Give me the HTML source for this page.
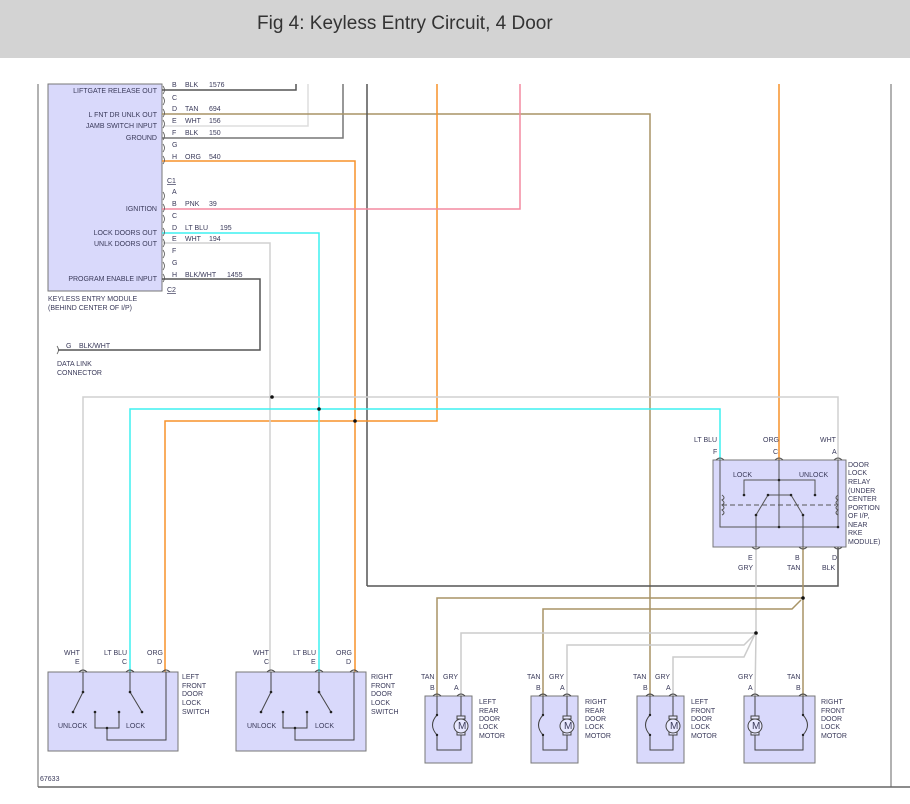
<!DOCTYPE html>
<html><head><meta charset="utf-8"><style>
html,body{margin:0;padding:0;background:#fff;width:910px;height:804px;overflow:hidden}
svg{display:block}
text{font-family:"Liberation Sans",sans-serif;font-size:7px;fill:#3a3a5a}
.t{font-size:19px;fill:#333}
</style></head><body>
<svg width="910" height="804" viewBox="0 0 910 804" xmlns="http://www.w3.org/2000/svg">
<rect x="0" y="0" width="910" height="58" fill="#d3d3d3"/>
<text class="t" x="257" y="29" style="font-size:19px;fill:#333">Fig 4: Keyless Entry Circuit, 4 Door</text>
<!-- frame -->
<line x1="38" y1="84" x2="38" y2="787" stroke="#666" stroke-width="1"/>
<line x1="891" y1="84" x2="891" y2="787" stroke="#666" stroke-width="1"/>
<line x1="38" y1="787" x2="910" y2="787" stroke="#666" stroke-width="1.5"/>
<!-- module box -->
<rect x="48" y="84" width="114" height="207" fill="#d9d9fb" stroke="#777" stroke-width="1"/>
<g fill="none" stroke-width="1.5">
<!-- wires from module -->
<polyline points="162,90 296,90 296,84" stroke="#555"/>
<polyline points="162,126 308,126 308,84" stroke="#ddd"/>
<polyline points="162,138 343,138 343,84" stroke="#777"/>
<polyline points="162,114 650,114 650,697" stroke="#a89466"/>
<line x1="367" y1="84" x2="367" y2="586" stroke="#555"/>
<polyline points="367,586 838,586 838,547" stroke="#555"/>
<polyline points="162,161 355,161 355,672" stroke="#f7922a"/>
<polyline points="437,84 437,421 165,421 165,672" stroke="#f7922a"/>
<polyline points="162,209 520,209 520,84" stroke="#f48aa0"/>
<polyline points="162,233 319,233 319,672" stroke="#3ff0f0"/>
<polyline points="162,243 270,243 270,672" stroke="#d0d0d0"/>
<polyline points="162,279 260,279 260,350 58,350" stroke="#555"/>
<line x1="779" y1="84" x2="779" y2="460" stroke="#f7922a"/>
<polyline points="83,672 83,397 838,397 838,460" stroke="#d0d0d0"/>
<polyline points="130,672 130,409 720,409 720,460" stroke="#3ff0f0"/>
<!-- relay outputs -->
<polyline points="756,547 756,633 755,697" stroke="#ccc"/>
<line x1="803" y1="547" x2="803" y2="697" stroke="#a89466"/>
<polyline points="437,697 437,598 803,598" stroke="#a89466"/>
<polyline points="543,697 543,609 792,609 801,600" stroke="#a89466"/>
<polyline points="461,697 461,633 756,633" stroke="#ccc"/>
<polyline points="567,697 567,645 744,645 755,634" stroke="#ccc"/>
<polyline points="673,697 673,657 744,657 755,634" stroke="#ccc"/>
</g>
<g fill="#111">
<circle cx="272" cy="397" r="1.8"/><circle cx="319" cy="409" r="1.8"/><circle cx="355" cy="421" r="1.8"/>
<circle cx="803" cy="598" r="1.8"/><circle cx="756" cy="633" r="1.8"/>
</g>
<!-- module pin markers -->
<g fill="none" stroke="#555" stroke-width="0.8">
<path d="M163,86 q3,4 0,8"/><path d="M163,97 q3,4 0,8"/><path d="M163,109 q3,4 0,8"/><path d="M163,120 q3,4 0,8"/><path d="M163,132 q3,4 0,8"/><path d="M163,144 q3,4 0,8"/><path d="M163,156 q3,4 0,8"/>
<path d="M163,192 q3,4 0,8"/><path d="M163,204 q3,4 0,8"/><path d="M163,215 q3,4 0,8"/><path d="M163,228 q3,4 0,8"/><path d="M163,239 q3,4 0,8"/><path d="M163,250 q3,4 0,8"/><path d="M163,262 q3,4 0,8"/><path d="M163,274 q3,4 0,8"/>
<path d="M57,346 q3,4 0,8"/>
</g>
<g>
<text x="157" y="93" text-anchor="end">LIFTGATE RELEASE OUT</text>
<text x="157" y="117" text-anchor="end">L FNT DR UNLK OUT</text>
<text x="157" y="128" text-anchor="end">JAMB SWITCH INPUT</text>
<text x="157" y="140" text-anchor="end">GROUND</text>
<text x="157" y="211" text-anchor="end">IGNITION</text>
<text x="157" y="235" text-anchor="end">LOCK DOORS OUT</text>
<text x="157" y="246" text-anchor="end">UNLK DOORS OUT</text>
<text x="157" y="281" text-anchor="end">PROGRAM ENABLE INPUT</text>
<text x="48" y="301">KEYLESS ENTRY MODULE</text>
<text x="48" y="310">(BEHIND CENTER OF I/P)</text>
<text x="172" y="87">B</text><text x="185" y="87">BLK</text><text x="209" y="87">1576</text>
<text x="172" y="100">C</text>
<text x="172" y="111">D</text><text x="185" y="111">TAN</text><text x="209" y="111">694</text>
<text x="172" y="123">E</text><text x="185" y="123">WHT</text><text x="209" y="123">156</text>
<text x="172" y="135">F</text><text x="185" y="135">BLK</text><text x="209" y="135">150</text>
<text x="172" y="147">G</text>
<text x="172" y="159">H</text><text x="185" y="159">ORG</text><text x="209" y="159">540</text>
<text x="167" y="183" text-decoration="underline">C1</text>
<text x="172" y="194">A</text>
<text x="172" y="206">B</text><text x="185" y="206">PNK</text><text x="209" y="206">39</text>
<text x="172" y="218">C</text>
<text x="172" y="230">D</text><text x="185" y="230">LT BLU</text><text x="220" y="230">195</text>
<text x="172" y="241">E</text><text x="185" y="241">WHT</text><text x="209" y="241">194</text>
<text x="172" y="253">F</text>
<text x="172" y="265">G</text>
<text x="172" y="277">H</text><text x="185" y="277">BLK/WHT</text><text x="227" y="277">1455</text>
<text x="167" y="292" text-decoration="underline">C2</text>
<text x="66" y="348">G</text><text x="79" y="348">BLK/WHT</text>
<text x="57" y="366">DATA LINK</text><text x="57" y="375">CONNECTOR</text>
<text x="40" y="781">67633</text>
</g>
<!-- relay -->
<rect x="713" y="460" width="133" height="87" fill="#d9d9fb" stroke="#777"/>
<g fill="none" stroke="#555" stroke-width="1">
<polyline points="720,460 720,527 838,527 838,460"/>
<line x1="779" y1="460" x2="779" y2="527"/>
<polyline points="744,495 744,480 815,480 815,495"/>
<polyline points="768,495 791,495"/>
<line x1="768" y1="495" x2="756" y2="515"/><line x1="791" y1="495" x2="803" y2="515"/>
<line x1="756" y1="515" x2="756" y2="547"/><line x1="803" y1="515" x2="803" y2="547"/>
<line x1="722" y1="505" x2="836" y2="505" stroke-dasharray="5,3"/>
<path d="M722,495 q4,3 0,5 q4,3 0,5 q4,3 0,5 q4,3 0,5"/>
<path d="M838,495 q-4,3 0,5 q-4,3 0,5 q-4,3 0,5 q-4,3 0,5"/>
<path d="M716,460 q4,-4 8,0"/><path d="M775,460 q4,-4 8,0"/><path d="M834,460 q4,-4 8,0"/>
<path d="M752,547 q4,4 8,0"/><path d="M799,547 q4,4 8,0"/><path d="M834,547 q4,4 8,0"/>
</g>
<g fill="#222"><circle cx="744" cy="495" r="1.3"/><circle cx="815" cy="495" r="1.3"/><circle cx="779" cy="480" r="1.3"/><circle cx="779" cy="527" r="1.3"/><circle cx="838" cy="527" r="1.3"/><circle cx="768" cy="495" r="1.3"/><circle cx="791" cy="495" r="1.3"/><circle cx="756" cy="515" r="1.3"/><circle cx="803" cy="515" r="1.3"/></g>
<g>
<text x="694" y="442">LT BLU</text><text x="763" y="442">ORG</text><text x="820" y="442">WHT</text>
<text x="713" y="454">F</text><text x="773" y="454">C</text><text x="832" y="454">A</text>
<text x="733" y="477">LOCK</text><text x="799" y="477">UNLOCK</text>
<text x="848" y="467">DOOR</text><text x="848" y="475">LOCK</text><text x="848" y="484">RELAY</text><text x="848" y="493">(UNDER</text><text x="848" y="501">CENTER</text><text x="848" y="510">PORTION</text><text x="848" y="518">OF I/P,</text><text x="848" y="527">NEAR</text><text x="848" y="535">RKE</text><text x="848" y="544">MODULE)</text>
<text x="748" y="560">E</text><text x="795" y="560">B</text><text x="832" y="560">D</text>
<text x="738" y="570">GRY</text><text x="787" y="570">TAN</text><text x="822" y="570">BLK</text>
</g>
<!-- switches -->
<g>
<rect x="48" y="672" width="130" height="79" fill="#d9d9fb" stroke="#777"/>
<rect x="236" y="672" width="130" height="79" fill="#d9d9fb" stroke="#777"/>
<g fill="none" stroke="#444" stroke-width="1">
<line x1="83" y1="672" x2="83" y2="692"/><line x1="83" y1="692" x2="73" y2="712"/>
<line x1="130" y1="672" x2="130" y2="692"/><line x1="130" y1="692" x2="142" y2="712"/>
<polyline points="95,712 95,728 119,728 119,712"/><polyline points="107,728 107,740 166,740 166,672"/>
<line x1="271" y1="672" x2="271" y2="692"/><line x1="271" y1="692" x2="261" y2="712"/>
<line x1="319" y1="672" x2="319" y2="692"/><line x1="319" y1="692" x2="331" y2="712"/>
<polyline points="283,712 283,728 307,728 307,712"/><polyline points="295,728 295,740 354,740 354,672"/>
<path d="M79,672 q4,-4 8,0"/><path d="M126,672 q4,-4 8,0"/><path d="M162,672 q4,-4 8,0"/>
<path d="M267,672 q4,-4 8,0"/><path d="M315,672 q4,-4 8,0"/><path d="M350,672 q4,-4 8,0"/>
</g>
<g fill="#222"><circle cx="83" cy="692" r="1.3"/><circle cx="73" cy="712" r="1.3"/><circle cx="130" cy="692" r="1.3"/><circle cx="142" cy="712" r="1.3"/><circle cx="95" cy="712" r="1.3"/><circle cx="119" cy="712" r="1.3"/><circle cx="107" cy="728" r="1.3"/>
<circle cx="271" cy="692" r="1.3"/><circle cx="261" cy="712" r="1.3"/><circle cx="319" cy="692" r="1.3"/><circle cx="331" cy="712" r="1.3"/><circle cx="283" cy="712" r="1.3"/><circle cx="307" cy="712" r="1.3"/><circle cx="295" cy="728" r="1.3"/></g>
<text x="64" y="655">WHT</text><text x="104" y="655">LT BLU</text><text x="147" y="655">ORG</text>
<text x="75" y="664">E</text><text x="122" y="664">C</text><text x="157" y="664">D</text>
<text x="58" y="728">UNLOCK</text><text x="126" y="728">LOCK</text>
<text x="182" y="679">LEFT</text><text x="182" y="688">FRONT</text><text x="182" y="696">DOOR</text><text x="182" y="705">LOCK</text><text x="182" y="714">SWITCH</text>
<text x="253" y="655">WHT</text><text x="293" y="655">LT BLU</text><text x="336" y="655">ORG</text>
<text x="264" y="664">C</text><text x="311" y="664">E</text><text x="346" y="664">D</text>
<text x="247" y="728">UNLOCK</text><text x="315" y="728">LOCK</text>
<text x="371" y="679">RIGHT</text><text x="371" y="688">FRONT</text><text x="371" y="696">DOOR</text><text x="371" y="705">LOCK</text><text x="371" y="714">SWITCH</text>
</g>
<!-- motors -->
<g>
<rect x="425" y="696" width="47" height="67" fill="#d9d9fb" stroke="#777"/>
<rect x="531" y="696" width="47" height="67" fill="#d9d9fb" stroke="#777"/>
<rect x="637" y="696" width="47" height="67" fill="#d9d9fb" stroke="#777"/>
<rect x="744" y="696" width="71" height="67" fill="#d9d9fb" stroke="#777"/>
<g fill="none" stroke="#444" stroke-width="1">
<polyline points="437,696 437,715"/><path d="M437,715 q-9,10 0,20"/><polyline points="437,735 437,750 461,750 461,696"/>
<polyline points="543,696 543,715"/><path d="M543,715 q-9,10 0,20"/><polyline points="543,735 543,750 567,750 567,696"/>
<polyline points="650,696 650,715"/><path d="M650,715 q-9,10 0,20"/><polyline points="650,735 650,750 673,750 673,696"/>
<polyline points="803,696 803,715"/><path d="M803,715 q9,10 0,20"/><polyline points="803,735 803,750 755,750 755,696"/>
<path d="M433,696 q4,-4 8,0"/><path d="M457,696 q4,-4 8,0"/>
<path d="M539,696 q4,-4 8,0"/><path d="M563,696 q4,-4 8,0"/>
<path d="M646,696 q4,-4 8,0"/><path d="M669,696 q4,-4 8,0"/>
<path d="M751,696 q4,-4 8,0"/><path d="M799,696 q4,-4 8,0"/>
</g>
<g stroke="#444" stroke-width="1" fill="#e8e8ff">
<rect x="457" y="716" width="8" height="3"/><rect x="457" y="732" width="8" height="3"/><circle cx="461" cy="726" r="7"/>
<rect x="563" y="716" width="8" height="3"/><rect x="563" y="732" width="8" height="3"/><circle cx="567" cy="726" r="7"/>
<rect x="669" y="716" width="8" height="3"/><rect x="669" y="732" width="8" height="3"/><circle cx="673" cy="726" r="7"/>
<rect x="751" y="716" width="8" height="3"/><rect x="751" y="732" width="8" height="3"/><circle cx="755" cy="726" r="7"/>
</g>
<g fill="#222"><circle cx="437" cy="715" r="1.2"/><circle cx="437" cy="735" r="1.2"/><circle cx="543" cy="715" r="1.2"/><circle cx="543" cy="735" r="1.2"/><circle cx="650" cy="715" r="1.2"/><circle cx="650" cy="735" r="1.2"/><circle cx="803" cy="715" r="1.2"/><circle cx="803" cy="735" r="1.2"/></g>
<text x="458" y="729" style="font-size:10px">M</text><text x="564" y="729" style="font-size:10px">M</text><text x="670" y="729" style="font-size:10px">M</text><text x="752" y="729" style="font-size:10px">M</text>
<text x="421" y="679">TAN</text><text x="443" y="679">GRY</text><text x="430" y="690">B</text><text x="454" y="690">A</text>
<text x="527" y="679">TAN</text><text x="549" y="679">GRY</text><text x="536" y="690">B</text><text x="560" y="690">A</text>
<text x="633" y="679">TAN</text><text x="655" y="679">GRY</text><text x="643" y="690">B</text><text x="666" y="690">A</text>
<text x="738" y="679">GRY</text><text x="787" y="679">TAN</text><text x="748" y="690">A</text><text x="796" y="690">B</text>
<text x="479" y="704">LEFT</text><text x="479" y="713">REAR</text><text x="479" y="721">DOOR</text><text x="479" y="729">LOCK</text><text x="479" y="738">MOTOR</text>
<text x="585" y="704">RIGHT</text><text x="585" y="713">REAR</text><text x="585" y="721">DOOR</text><text x="585" y="729">LOCK</text><text x="585" y="738">MOTOR</text>
<text x="691" y="704">LEFT</text><text x="691" y="713">FRONT</text><text x="691" y="721">DOOR</text><text x="691" y="729">LOCK</text><text x="691" y="738">MOTOR</text>
<text x="821" y="704">RIGHT</text><text x="821" y="713">FRONT</text><text x="821" y="721">DOOR</text><text x="821" y="729">LOCK</text><text x="821" y="738">MOTOR</text>
</g>
</svg>
</body></html>
